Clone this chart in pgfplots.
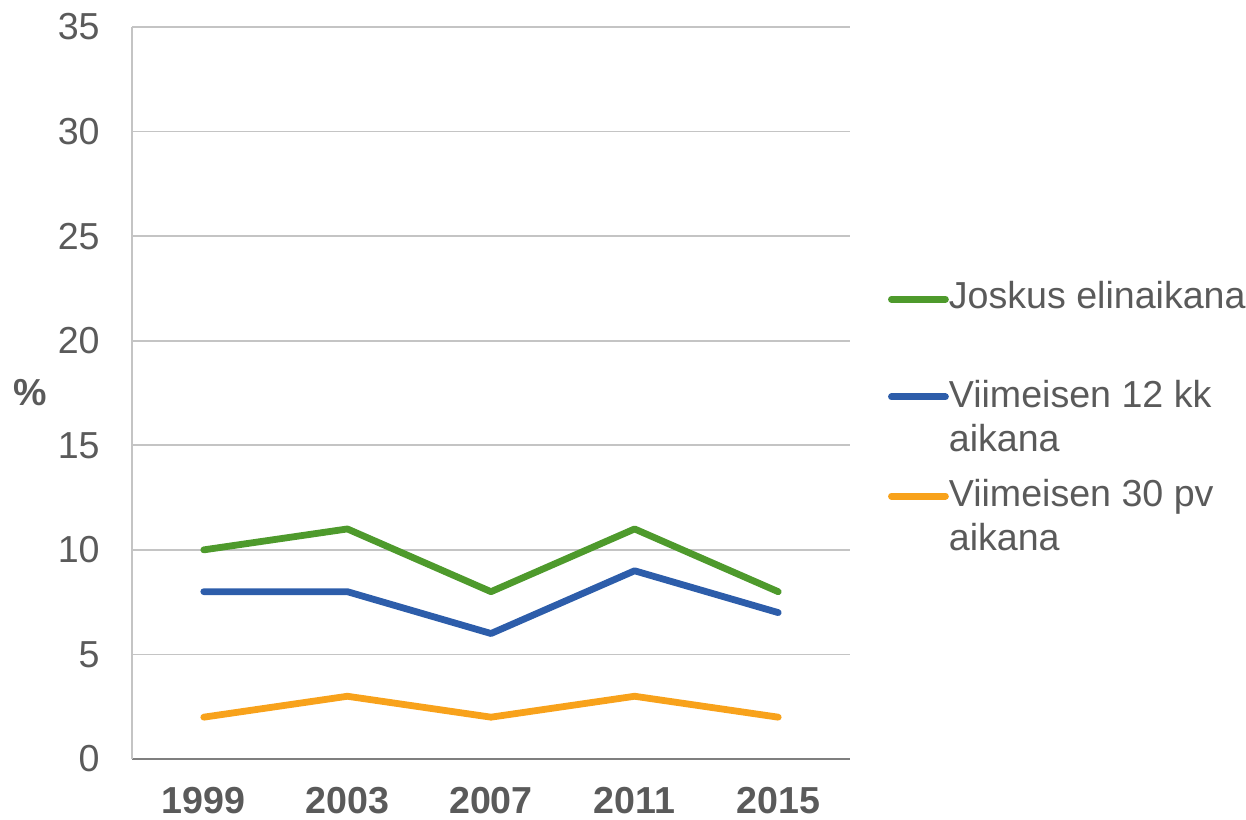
\documentclass[border=0pt]{standalone}
\usepackage{pgfplots}
\pgfplotsset{compat=1.18}
\usepackage{fontspec}
\setmainfont{Liberation Sans}
\definecolor{cGreen}{HTML}{4E9A2C}
\definecolor{cBlue}{HTML}{2D5DAA}
\definecolor{cOrange}{HTML}{F8A21B}
\definecolor{txt}{HTML}{5A5A5A}
\definecolor{gridc}{HTML}{C4C4C4}
\definecolor{xax}{HTML}{7F7F7F}

\begin{document}
\begin{tikzpicture}
\useasboundingbox (-66pt,-30pt) rectangle (557pt,379.5pt);
\begin{axis}[
    at={(0,0)}, anchor=south west,
    scale only axis,
    width=359pt, height=366pt,
    xmin=-0.5, xmax=4.5,
    ymin=0, ymax=35,
    xtick={0,1,2,3,4},
    xticklabels={1999,2003,2007,2011,2015},
    ytick={0,5,...,35},
    axis x line*=bottom,
    axis y line*=left,
    x axis line style={-, draw=xax, line width=1.3pt},
    y axis line style={-, draw=gridc, line width=0.8pt},
    major tick length=0pt,
    tick style={draw=none},
    ymajorgrids,
    grid style={draw=gridc, line width=0.8pt},
    font=\fontsize{18.8}{22}\selectfont,
    tick label style={text=txt},
    /pgf/number format/assume math mode=true,
    yticklabel style={anchor=east, inner sep=0pt, xshift=-16pt},
    xticklabel style={anchor=north, inner sep=0pt, yshift=-14pt, font=\fontsize{18.8}{22}\selectfont\bfseries},
    ylabel={\textbf{\%}},
    every axis y label/.style={at={(rel axis cs:0,0.5)}, anchor=center, xshift=-51pt, text=txt},
    legend style={at={(rel axis cs:1.053,0.653)}, anchor=north west, draw=none, fill=none,
        text=txt, row sep=32.75pt, inner sep=0pt, outer sep=0pt,
        nodes={inner sep=0pt, outer sep=0pt}},
    legend cell align=left,
    legend image code/.code={\draw[#1, line cap=round] (0pt,-1.6pt) -- (27pt,-1.6pt);},
    every axis plot/.append style={line width=3.4pt, line join=round, line cap=round},
]
\addplot[cGreen] coordinates {(0,10) (1,11) (2,8) (3,11) (4,8)};
\addlegendentry{Joskus elinaikana}
\addplot[cBlue] coordinates {(0,8) (1,8) (2,6) (3,9) (4,7)};
\addlegendentry{\begin{tabular}[t]{@{}l@{}}Viimeisen 12 kk\\ aikana\end{tabular}}
\addplot[cOrange] coordinates {(0,2) (1,3) (2,2) (3,3) (4,2)};
\addlegendentry{\begin{tabular}[t]{@{}l@{}}Viimeisen 30 pv\\ aikana\end{tabular}}
\end{axis}
\end{tikzpicture}
\end{document}
